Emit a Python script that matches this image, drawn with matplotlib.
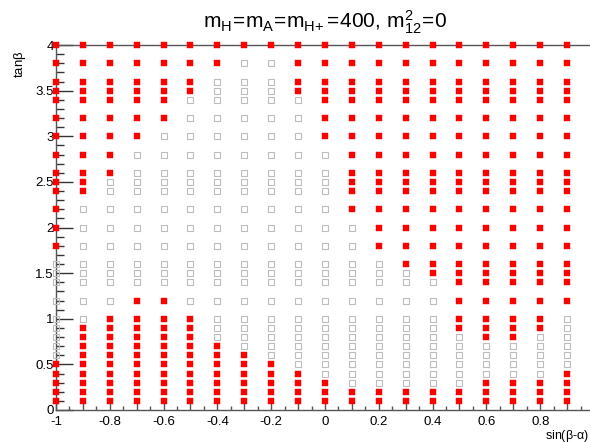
import matplotlib
matplotlib.use("Agg")
import matplotlib.pyplot as plt
from matplotlib.ticker import MultipleLocator, FuncFormatter
import numpy as np

plt.rcParams['font.family'] = ['Liberation Sans', 'DejaVu Sans']
plt.rcParams['mathtext.fontset'] = 'custom'
plt.rcParams['mathtext.rm'] = 'Liberation Sans'
plt.rcParams['mathtext.it'] = 'Liberation Sans'

# sin(beta-alpha) scan columns
sba = [-1.0, -0.9, -0.8, -0.7, -0.6, -0.5, -0.4, -0.3, -0.2, -0.1,
       0.0, 0.1, 0.2, 0.3, 0.4, 0.5, 0.6, 0.7, 0.8, 0.9]
# tan(beta) scan rows (top to bottom)
tanb = [4.0, 3.8, 3.6, 3.5, 3.4, 3.2, 3.0, 2.8, 2.6, 2.5, 2.4, 2.2, 2.0,
        1.8, 1.6, 1.5, 1.4, 1.2, 1.0, 0.9, 0.8, 0.7, 0.6, 0.5, 0.4, 0.3,
        0.2, 0.1]
# R = allowed (red filled), . = excluded (grey open); one string per tanb row
status = [
    "RRRRRRRRRRRRRRRRRRRR",  # 4.0
    "RRRRRRR..RRRRRRRRRRR",  # 3.8
    "RRRRRR...RRRRRRRRRRR",  # 3.6
    "RRRRRR...RRRRRRRRRRR",  # 3.5
    "RRRRR.....RRRRRRRRRR",  # 3.4
    "RRRRR.....RRRRRRRRRR",  # 3.2
    "RRRR......RRRRRRRRRR",  # 3.0
    "RRR........RRRRRRRRR",  # 2.8
    "RRR........RRRRRRRRR",  # 2.6
    "RR.........RRRRRRRRR",  # 2.5
    "RR.........RRRRRRRRR",  # 2.4
    "R..........RRRRRRRRR",  # 2.2
    "R...........RRRRRRRR",  # 2.0
    "R...........RRRRRRRR",  # 1.8
    ".............RRRRRRR",  # 1.6
    "..............RRRRRR",  # 1.5
    "...............RRRRR",  # 1.4
    "...RR..........RRRRR",  # 1.2
    "..RRRR.........RRRR.",  # 1.0
    ".RRRRR.........RRRR.",  # 0.9
    ".RRRRR..........RR..",  # 0.8
    ".RRRRRR.............",  # 0.7
    ".RRRRRRR............",  # 0.6
    "RRRRRRRRR...........",  # 0.5
    "RRRRRRRRRR.........R",  # 0.4
    "RRRRRRRRRRR.....RRRR",  # 0.3
    "RRRRRRRRRRRRRRRRRRRR",  # 0.2
    "RRRRRRRRRRRRRRRRRRRR",  # 0.1
]

title = r'$\mathregular{m_{H}\!=\!m_{A}\!=\!m_{H\!+}\!=\!400,\,m^{2}_{12}\!=\!0}$'

xr, yr, xg, yg = [], [], [], []
for yv, row in zip(tanb, status):
    for xv, c in zip(sba, row):
        if c == 'R':
            xr.append(xv); yr.append(yv)
        else:
            xg.append(xv); yg.append(yv)

W, H = 590, 442
fig = plt.figure(figsize=(W / 100, H / 100), dpi=100)
x0, x1 = 56, 594
ytop, ybot = 45, 410
ax = fig.add_axes([x0 / W, (H - ybot) / H, (x1 - x0) / W, (ybot - ytop) / H])

ax.plot(xg, yg, 's', ms=4.0, mfc='none', mec='#bdbdbd', mew=0.8,
        clip_on=False, zorder=3, linestyle='none')
ax.plot(xr, yr, 's', ms=4.2, mfc='#ff0000', mec='#ff0000', mew=0.3,
        clip_on=False, zorder=4, linestyle='none')

ax.set_xlim(-1, 1)
ax.set_ylim(0, 4)

ax.spines['right'].set_visible(False)
for s in ['left', 'bottom', 'top']:
    ax.spines[s].set_color('#555555')
    ax.spines[s].set_linewidth(1.0)

ax.xaxis.set_major_locator(MultipleLocator(0.1))
ax.xaxis.set_minor_locator(MultipleLocator(0.05))
def xfmt(v, pos):
    k = int(round(v * 10))
    if k % 2 != 0 or k >= 10:
        return ''
    if k == 0:
        return '0'
    if k == -10:
        return '-1'
    return ('%.1f' % (k / 10.0))
ax.xaxis.set_major_formatter(FuncFormatter(xfmt))
ax.yaxis.set_major_locator(MultipleLocator(0.5))
ax.yaxis.set_minor_locator(MultipleLocator(0.1))
def yfmt(v, pos):
    if abs(v - round(v)) < 1e-6:
        return '%d' % round(v)
    return '%.1f' % v
ax.yaxis.set_major_formatter(FuncFormatter(yfmt))

ax.tick_params(axis='x', which='major', direction='in', length=5.5, width=1,
               color='#555555', labelsize=9.5, pad=4.0, top=False)
ax.tick_params(axis='x', which='minor', direction='in', length=3, width=1,
               color='#555555', top=False)
ax.tick_params(axis='y', which='major', direction='in', length=12.5, width=1,
               color='#333333', labelsize=9.5, pad=1.5, right=False)
ax.tick_params(axis='y', which='minor', direction='in', length=6, width=1,
               color='#333333', right=False)

fig.text(325 / W, 1 - 28 / H, title, ha='center', va='baseline', fontsize=15)
fig.text(589 / W, 1 - 438.5 / H, r'sin($\beta$-$\alpha$)', ha='right',
         va='baseline', fontsize=9)
fig.text(28 / W, 1 - 51 / H, r'tan$\beta$', ha='right', va='top',
         rotation=90, fontsize=9.5)

fig.savefig('out.png', dpi=100)
